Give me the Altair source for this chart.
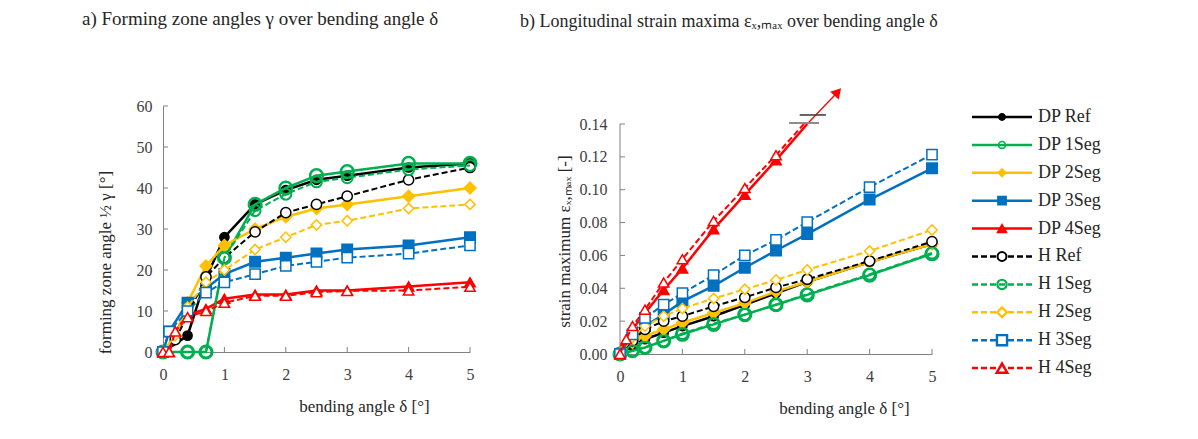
import altair as alt
import pandas as pd

SERIF = "Liberation Serif"

NAMES = ["DP Ref", "DP 1Seg", "DP 2Seg", "DP 3Seg", "DP 4Seg",
         "H Ref", "H 1Seg", "H 2Seg", "H 3Seg", "H 4Seg"]
COLORS = ["#000000", "#00B050", "#FFC000", "#0070C0", "#FF0000",
          "#000000", "#00B050", "#FFC000", "#0070C0", "#FF0000"]
SHAPES = ["circle", "circle", "diamond", "square", "triangle-up"] * 2
FILLS = ["#000000", "transparent", "#FFC000", "#0070C0", "#FF0000",
         "#ffffff", "transparent", "#ffffff", "#ffffff", "#ffffff"]
DASHES = [[1, 0]] * 5 + [[6, 3]] * 5
LINE_W = [2.5, 2.5, 2.5, 2.5, 2.5, 2, 2, 2, 2, 2]
PT_SIZE = [85, 160, 140, 110, 110, 105, 120, 105, 105, 110]
PT_SW = [1.5, 2.5, 1.5, 1.5, 1.5, 1.5, 2, 1.5, 1.5, 1.5]
LEG_SIZE = [40, 110, 25, 80, 35, 60, 70, 45, 65, 70]

# ---------- a) forming zone angle 1/2 gamma [deg] ----------
A_X_DP_REF = [0, 0.4, 0.7, 1, 1.5, 2, 2.5, 3, 4, 5]
A_Y_DP_REF = [0, 4, 18, 28, 36, 39.5, 42, 43, 45, 46]
A_X_DP_1SEG = [0, 0.4, 0.7, 1, 1.5, 2, 2.5, 3, 4, 5]
A_Y_DP_1SEG = [0, 0, 0, 23, 36, 40, 43, 44, 46, 46]
A_X_DP_2SEG = [0, 0.2, 0.4, 0.7, 1, 1.5, 2, 2.5, 3, 4, 5]
A_Y_DP_2SEG = [0, 4, 12, 21, 26, 30, 33, 35, 36, 38, 40]
A_X_DP_3SEG = [0, 0.1, 0.4, 0.7, 1, 1.5, 2, 2.5, 3, 4, 5]
A_Y_DP_3SEG = [0, 5, 12, 15.5, 19, 22, 23, 24, 25, 26, 28]
A_X_DP_4SEG = [0, 0.1, 0.2, 0.4, 0.7, 1, 1.5, 2, 2.5, 3, 4, 5]
A_Y_DP_4SEG = [0, 0, 5, 9, 10.5, 13, 14, 14, 15, 15, 16, 17]
A_X_H_REF = [0, 0.2, 0.4, 0.7, 1, 1.5, 2, 2.5, 3, 4, 5]
A_Y_H_REF = [0, 3, 9, 18.3, 23, 29.3, 34, 36, 38, 42, 45]
A_X_H_1SEG = [0, 0.4, 0.7, 1, 1.5, 2, 2.5, 3, 4, 5]
A_Y_H_1SEG = [0, 0, 0, 23, 34.5, 38.5, 41.5, 42.5, 44.5, 45.5]
A_X_H_2SEG = [0, 0.2, 0.4, 0.7, 1, 1.5, 2, 2.5, 3, 4, 5]
A_Y_H_2SEG = [0, 4, 11, 17, 20, 25, 28, 31, 32, 35, 36]
A_X_H_3SEG = [0, 0.1, 0.4, 0.7, 1, 1.5, 2, 2.5, 3, 4, 5]
A_Y_H_3SEG = [0, 5, 10, 14.5, 17, 19, 21, 22, 23, 24, 26]
A_X_H_4SEG = [0, 0.1, 0.2, 0.4, 0.7, 1, 1.5, 2, 2.5, 3, 4, 5]
A_Y_H_4SEG = [0, 0, 5, 8.5, 10, 12, 13.7, 13.7, 14.6, 14.9, 15, 15.9]

# ---------- b) strain maximum eps_x,max [-] ----------
B_X = [0, 0.2, 0.4, 0.7, 1, 1.5, 2, 2.5, 3, 4, 5]
B_X_4SEG = [0, 0.1, 0.2, 0.4, 0.7, 1, 1.5, 2, 2.5]
B_Y_DP_REF = [0, 0.005, 0.009, 0.013, 0.017, 0.023, 0.030, 0.037, 0.044, 0.056, 0.067]
B_Y_DP_1SEG = [0, 0.002, 0.004, 0.008, 0.012, 0.018, 0.024, 0.030, 0.036, 0.048, 0.061]
B_Y_DP_2SEG = [0, 0.007, 0.011, 0.015, 0.019, 0.025, 0.031, 0.038, 0.044, 0.056, 0.067]
B_Y_DP_3SEG = [0, 0.010, 0.017, 0.024, 0.032, 0.0415, 0.0525, 0.063, 0.073, 0.094, 0.113]
B_Y_DP_4SEG = [0, 0.008, 0.015, 0.025, 0.039, 0.052, 0.076, 0.097, 0.118]
B_Y_H_REF = [0, 0.008, 0.015, 0.020, 0.023, 0.029, 0.0345, 0.0405, 0.0455, 0.0566, 0.0684]
B_Y_H_1SEG = [0, 0.002, 0.004, 0.008, 0.0125, 0.0185, 0.024, 0.030, 0.0365, 0.0485, 0.0615]
B_Y_H_2SEG = [0, 0.010, 0.017, 0.023, 0.0277, 0.0338, 0.0394, 0.0451, 0.0512, 0.0627, 0.0755]
B_Y_H_3SEG = [0, 0.012, 0.022, 0.030, 0.037, 0.048, 0.060, 0.0694, 0.0803, 0.1016, 0.1214]
B_Y_H_4SEG = [0, 0.009, 0.017, 0.027, 0.0435, 0.0577, 0.081, 0.101, 0.121]
# continuation of the 4Seg curves beyond the axis range
B_EXT_X_DP_4SEG = [2.5, 3.0]
B_EXT_Y_DP_4SEG = [0.118, 0.140]
B_EXT_X_H_4SEG = [2.5, 2.97]
B_EXT_Y_H_4SEG = [0.121, 0.141]
B_ARROW_X = [3.0, 3.49]
B_ARROW_Y = [0.140, 0.1595]
B_BREAK_X1 = [2.71, 2.88]
B_BREAK_X2 = [3.19, 3.30]
B_BREAK_Y = [0.1406, 0.1455]

A_TICKS_X = [0, 1, 2, 3, 4, 5]
A_TICKS_Y = [0, 10, 20, 30, 40, 50, 60]
B_TICKS_X = [0, 1, 2, 3, 4, 5]
B_TICKS_Y = [0, 0.02, 0.04, 0.06, 0.08, 0.10, 0.12, 0.14]

A_SERIES = [(A_X_DP_REF, A_Y_DP_REF), (A_X_DP_1SEG, A_Y_DP_1SEG), (A_X_DP_2SEG, A_Y_DP_2SEG),
            (A_X_DP_3SEG, A_Y_DP_3SEG), (A_X_DP_4SEG, A_Y_DP_4SEG), (A_X_H_REF, A_Y_H_REF),
            (A_X_H_1SEG, A_Y_H_1SEG), (A_X_H_2SEG, A_Y_H_2SEG), (A_X_H_3SEG, A_Y_H_3SEG),
            (A_X_H_4SEG, A_Y_H_4SEG)]
B_SERIES = [(B_X, B_Y_DP_REF), (B_X, B_Y_DP_1SEG), (B_X, B_Y_DP_2SEG), (B_X, B_Y_DP_3SEG),
            (B_X_4SEG, B_Y_DP_4SEG), (B_X, B_Y_H_REF), (B_X, B_Y_H_1SEG), (B_X, B_Y_H_2SEG),
            (B_X, B_Y_H_3SEG), (B_X_4SEG, B_Y_H_4SEG)]

AXIS_GRAY = "#808080"
LABEL_C = "#404040"
TEXT_C = "#262626"

AW, AH = 307, 246
BW, BH = 312, 248
B_YMAX = 0.14 * BH / 230.0   # panel b's value axis stops at 0.14, its plot area is a bit taller


def x_axis(title_x):
    return alt.Axis(title="bending angle δ [°]", values=[0, 1, 2, 3, 4, 5], format="d",
                    ticks=False, grid=False, domainColor=AXIS_GRAY, labelPadding=14,
                    labelFont=SERIF, labelFontSize=16, labelColor=LABEL_C, labelFlush=False,
                    titleFont=SERIF, titleFontSize=17, titleFontWeight="normal",
                    titleColor=TEXT_C, titleX=title_x, titleY=46, titleAlign="center")


AXIS_AX = x_axis(201)
AXIS_BX = x_axis(224)
AXIS_AY = alt.Axis(title="forming zone angle ½ γ [°]", values=A_TICKS_Y, format="d",
                   ticks=False, grid=False, domainColor=AXIS_GRAY, labelPadding=11,
                   labelFont=SERIF, labelFontSize=16, labelColor=LABEL_C, labelFlush=False,
                   titleFont=SERIF, titleFontSize=17, titleFontWeight="normal",
                   titleColor=TEXT_C, titleX=-49, titleY=156, titleAlign="center")
AXIS_BY = alt.Axis(title="strain maximum  εₓ,ₘₐₓ [-]", values=B_TICKS_Y, format=".2f",
                   ticks=False, grid=False, domain=False, labelPadding=13,
                   labelFont=SERIF, labelFontSize=16, labelColor=LABEL_C, labelFlush=False,
                   titleFont=SERIF, titleFontSize=17, titleFontWeight="normal",
                   titleColor=TEXT_C, titleX=-47, titleY=135, titleAlign="center")

SCALE_AX = alt.Scale(domain=[0, 5], nice=False, zero=False)
SCALE_AY = alt.Scale(domain=[0, 60], nice=False, zero=False)
SCALE_BX = alt.Scale(domain=[0, 5], nice=False, zero=False)
SCALE_BY = alt.Scale(domain=[0, B_YMAX], nice=False, zero=False)


def build_panel(series, sx, sy, ax, ay, ticks_x, ticks_y, h, extra=()):
    X = lambda f: alt.X(f"{f}:Q", scale=sx, axis=ax)
    Y = lambda f: alt.Y(f"{f}:Q", scale=sy, axis=ay)
    layers = []
    tx = pd.DataFrame({"v": ticks_x})
    ty = pd.DataFrame({"v": ticks_y})
    layers.append(alt.Chart(tx).mark_rule(color=AXIS_GRAY, strokeWidth=1).encode(
        x=X("v"), y=alt.value(h), y2=alt.value(h - 5)))
    layers.append(alt.Chart(ty).mark_rule(color=AXIS_GRAY, strokeWidth=1).encode(
        y=Y("v"), x=alt.value(0), x2=alt.value(5)))
    for ex in extra:
        layers.append(ex(X, Y))
    for i, (xs, ys) in enumerate(series):
        df = pd.DataFrame({"x": xs, "y": ys})
        lk = dict(color=COLORS[i], strokeWidth=LINE_W[i])
        if i >= 5:
            lk["strokeDash"] = DASHES[i]
        layers.append(alt.Chart(df).mark_line(**lk).encode(x=X("x"), y=Y("y")))
        layers.append(alt.Chart(df).mark_point(
            shape=SHAPES[i], size=PT_SIZE[i], filled=True, fill=FILLS[i],
            stroke=COLORS[i], strokeWidth=PT_SW[i], opacity=1).encode(x=X("x"), y=Y("y")))
    return alt.layer(*layers)


def b_axis_line(X, Y):
    df = pd.DataFrame({"y": [B_TICKS_Y[0]], "y2": [B_TICKS_Y[-1]]})
    return alt.Chart(df).mark_rule(color=AXIS_GRAY, strokeWidth=1).encode(
        x=alt.value(0), y=Y("y"), y2="y2:Q")


def ext_dp(X, Y):
    df = pd.DataFrame({"x": B_EXT_X_DP_4SEG, "y": B_EXT_Y_DP_4SEG})
    return alt.Chart(df).mark_line(color="#FF0000", strokeWidth=2.5).encode(x=X("x"), y=Y("y"))


def ext_h(X, Y):
    df = pd.DataFrame({"x": B_EXT_X_H_4SEG, "y": B_EXT_Y_H_4SEG})
    return alt.Chart(df).mark_line(color="#FF0000", strokeWidth=2, strokeDash=[6, 3]).encode(
        x=X("x"), y=Y("y"))


def arrow_line(X, Y):
    df = pd.DataFrame({"x": B_ARROW_X, "y": B_ARROW_Y})
    return alt.Chart(df).mark_line(color="#FF0000", strokeWidth=1.3).encode(x=X("x"), y=Y("y"))


def arrow_head(X, Y):
    df = pd.DataFrame({"x": B_ARROW_X[-1:], "y": B_ARROW_Y[-1:]})
    return alt.Chart(df).mark_point(shape="triangle-up", size=130, filled=True, color="#FF0000",
                                    angle=42, opacity=1).encode(x=X("x"), y=Y("y"))


def break_low(X, Y):
    df = pd.DataFrame({"x": B_BREAK_X1[:1], "x2": B_BREAK_X2[:1], "y": B_BREAK_Y[:1]})
    return alt.Chart(df).mark_rule(color="#8c8c8c", strokeWidth=2).encode(
        x=X("x"), x2="x2:Q", y=Y("y"))


def break_high(X, Y):
    df = pd.DataFrame({"x": B_BREAK_X1[1:], "x2": B_BREAK_X2[1:], "y": B_BREAK_Y[1:]})
    return alt.Chart(df).mark_rule(color="#404040", strokeWidth=1.6).encode(
        x=X("x"), x2="x2:Q", y=Y("y"))


left = build_panel(A_SERIES, SCALE_AX, SCALE_AY, AXIS_AX, AXIS_AY, A_TICKS_X, A_TICKS_Y, AH).properties(
    width=AW, height=AH,
    title=alt.TitleParams("a) Forming zone angles γ over bending angle δ", anchor="start",
                          frame="group", dx=-81, offset=69, font=SERIF, fontSize=19,
                          fontWeight="normal", color=TEXT_C))

right = build_panel(B_SERIES, SCALE_BX, SCALE_BY, AXIS_BX, AXIS_BY, B_TICKS_X, B_TICKS_Y, BH,
                    extra=(b_axis_line, ext_dp, ext_h, arrow_line, arrow_head, break_low,
                           break_high)).properties(
    width=BW, height=BH,
    title=alt.TitleParams("b) Longitudinal strain maxima εₓ,ₘₐₓ over bending angle δ", anchor="start",
                          frame="group", dx=-100, offset=57, font=SERIF, fontSize=18,
                          fontWeight="normal", color=TEXT_C))

# ---------- legend ----------
LEG = pd.DataFrame({"name": NAMES, "i": list(range(len(NAMES)))})
LW_, LH_ = 180, 270
yL = alt.Y("i:Q", scale=alt.Scale(domain=[9.283, -0.394], nice=False, zero=False), axis=None)
dom = NAMES
leg_rule = alt.Chart(LEG).mark_rule().encode(
    x=alt.value(0), x2=alt.value(60), y=yL,
    color=alt.Color("name:N", scale=alt.Scale(domain=dom, range=COLORS), legend=None),
    strokeDash=alt.StrokeDash("name:N", scale=alt.Scale(domain=dom, range=DASHES), legend=None),
    strokeWidth=alt.StrokeWidth("name:O", scale=alt.Scale(domain=dom, range=LINE_W), legend=None))
leg_pts = alt.Chart(LEG).mark_point(filled=True, opacity=1).encode(
    x=alt.value(30), y=yL,
    shape=alt.Shape("name:N", scale=alt.Scale(domain=dom, range=SHAPES), legend=None),
    fill=alt.Fill("name:N", scale=alt.Scale(domain=dom, range=FILLS), legend=None),
    stroke=alt.Stroke("name:N", scale=alt.Scale(domain=dom, range=COLORS), legend=None),
    size=alt.Size("name:O", scale=alt.Scale(domain=dom, range=LEG_SIZE), legend=None),
    strokeWidth=alt.StrokeWidth("name:O", scale=alt.Scale(domain=dom, range=PT_SW), legend=None))
leg_txt = alt.Chart(LEG).mark_text(align="left", baseline="middle", font=SERIF, fontSize=18,
                                   color=TEXT_C).encode(x=alt.value(66), y=yL, text="name:N")
legend = alt.layer(leg_rule, leg_pts, leg_txt).resolve_scale(
    strokeWidth="independent").properties(width=LW_, height=LH_)

chart = alt.hconcat(left, alt.hconcat(right, legend, spacing=26), spacing=38).properties(
    padding={"left": 74, "top": 2, "right": 5, "bottom": 5}
).configure(background="white").configure_view(stroke=None)

chart.save("out.html", embed_options={"renderer": "svg", "actions": False})
